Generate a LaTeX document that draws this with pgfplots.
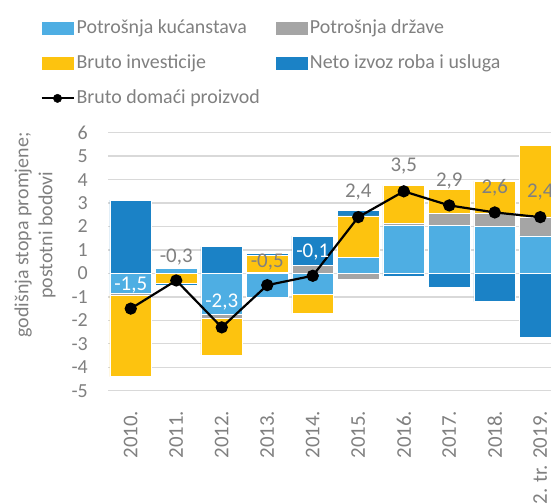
\documentclass[border=0pt]{standalone}
\usepackage{pgfplots}
\pgfplotsset{compat=1.18}
\usepackage{pgfplotstable}
\usepackage{fontspec}
\setmainfont{Carlito}

\definecolor{hh}{HTML}{4EAEE3}
\definecolor{gov}{HTML}{A5A5A5}
\definecolor{inv}{HTML}{FDC30F}
\definecolor{net}{HTML}{1B82C6}
\definecolor{txt}{HTML}{808080}
\definecolor{grd}{HTML}{D9D9D9}

% positive parts of the contributions
\pgfplotstableread{
x hh   gov  inv  net
0 0    0    0    3.12
1 0.2  0    0    0
2 0    0    0    1.14
3 0    0.05 0.72 0.08
4 0    0.35 0    1.24
5 0.7  0    1.75 0.24
6 2.05 0.07 1.62 0
7 2.05 0.5  1.03 0
8 2.0  0.57 1.37 0
9 1.6  0.81 3.06 0
}\posdata

% negative parts of the contributions
\pgfplotstableread{
x hh    gov   inv   net
0 -0.85 -0.1  -3.45 0
1 0     0     -0.4  -0.1
2 -1.75 -0.17 -1.55 0
3 -1.0  0     0     0
4 -0.9  0     -0.8  0
5 0     -0.23 0     0
6 0     0     0     -0.11
7 0     0     0     -0.6
8 0     0     0     -1.2
9 0     0     0     -2.72
}\negdata

% GDP
\pgfplotstableread{
x y
0 -1.5
1 -0.3
2 -2.3
3 -0.5
4 -0.1
5 2.4
6 3.5
7 2.9
8 2.6
9 2.4
}\gdp

\pgfplotstableread{
x y lab
0 -0.5 {-1,5}
2 -1.23 {-2,3}
4 0.91 {-0,1}
}\whitelab

\pgfplotstableread{
x y lab
1 0.71 {-0,3}
3 0.48 {-0,5}
5 3.45 {2,4}
6 4.59 {3,5}
7 3.95 {2,9}
8 3.66 {2,6}
9 3.45 {2,4}
}\graylab

\pgfplotsset{
  base/.style={at={(108bp,113.3bp)}, anchor=south west, scale only axis,
    width=443bp, height=258bp, xmin=-0.5, xmax=9.236, ymin=-5, ymax=6},
  bars/.style={ybar stacked, bar width=0.92},
  swatch/.style={legend image code/.code={\fill[##1, draw=none] (0bp,-6.3bp) rectangle (32bp,6.3bp);}},
  gdpline/.style={legend image code/.code={%
    \draw[black, line width=2.2bp] (0bp,0bp) -- (32bp,0bp);
    \fill[black] (16bp,0bp) circle (4.2bp);}},
}

\begin{document}
\begin{tikzpicture}
\useasboundingbox (0,0) rectangle (551bp,504bp);

\begin{axis}[base, bars,
  axis line style={draw=none}, major tick length=0,
  ytick={-5,-4,...,6},
  yticklabels={-5,-4,-3,-2,-1,0,1,2,3,4,5,6},
  ymajorgrids, grid style={grd, line width=1.3bp},
  xtick={0,...,9},
  xticklabels={2010.,2011.,2012.,2013.,2014.,2015.,2016.,2017.,2018.,{2. tr. 2019.}},
  tick label style={font=\fontsize{20}{24}\selectfont, text=txt},
  yticklabel style={anchor=east, inner sep=0pt, xshift=-20bp},
  xticklabel style={yshift=-20bp, rotate=90, anchor=east, inner sep=0pt, font=\fontsize{21}{24}\selectfont},
  legend columns=2, legend cell align=left,
  legend style={draw=none, fill=none, at={(axis description cs:-0.153,1.44)}, anchor=north west,
    font=\fontsize{20}{24}\selectfont, text=txt, inner sep=0pt, row sep=17bp,
    nodes={inner sep=0pt, text height=14bp, text depth=4bp},
    /tikz/every odd column/.append style={column sep=2bp},
    /tikz/every even column/.append style={column sep=16bp}},
]
\addplot[fill=hh, draw=white, line width=0.5bp, swatch] table[x=x, y=hh] {\posdata};
\addlegendentry{Potrošnja kućanstava}
\addplot[fill=gov, draw=white, line width=0.5bp, swatch] table[x=x, y=gov] {\posdata};
\addlegendentry{Potrošnja države}
\addplot[fill=inv, draw=white, line width=0.5bp, swatch] table[x=x, y=inv] {\posdata};
\addlegendentry{Bruto investicije}
\addplot[fill=net, draw=white, line width=0.5bp, swatch] table[x=x, y=net] {\posdata};
\addlegendentry{Neto izvoz roba i usluga}
\addlegendimage{black, gdpline}
\addlegendentry{Bruto domaći proizvod}
\end{axis}

\begin{axis}[base, bars, hide axis]
\addplot[fill=hh, draw=white, line width=0.5bp] table[x=x, y=hh] {\negdata};
\addplot[fill=gov, draw=white, line width=0.5bp] table[x=x, y=gov] {\negdata};
\addplot[fill=inv, draw=white, line width=0.5bp] table[x=x, y=inv] {\negdata};
\addplot[fill=net, draw=white, line width=0.5bp] table[x=x, y=net] {\negdata};
\end{axis}

\begin{axis}[base, hide axis, clip=false]
\addplot[black, line width=2.2bp, mark=*, mark size=5bp] table[x=x, y=y] {\gdp};
\addplot[draw=none, mark=none, nodes near coords, point meta=explicit symbolic,
  nodes near coords style={text=white, anchor=center, inner sep=0pt, font=\fontsize{21}{24}\selectfont}]
  table[x=x, y=y, meta=lab] {\whitelab};
\addplot[draw=none, mark=none, nodes near coords, point meta=explicit symbolic,
  nodes near coords style={text=txt, anchor=center, inner sep=0pt, font=\fontsize{21}{24}\selectfont}]
  table[x=x, y=y, meta=lab] {\graylab};
\end{axis}

\node[rotate=90, align=center, text=txt, font=\fontsize{20}{24}\selectfont] at (35bp,269bp)
  {godišnja stopa promjene;\\postotni bodovi};
\end{tikzpicture}
\end{document}
